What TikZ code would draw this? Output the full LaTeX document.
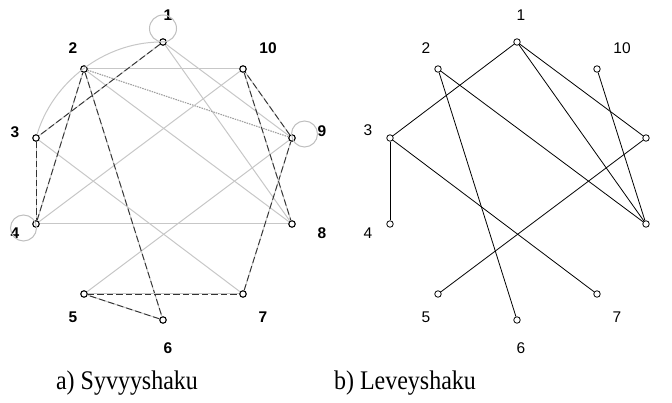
\documentclass[tikz,border=0pt]{standalone}
\usepackage{fontspec}
\setmainfont{Liberation Serif}
\setsansfont{Liberation Sans}
\begin{document}
\begin{tikzpicture}[x=1pt,y=-1pt,
  gr/.style={draw=black!22, line width=1pt},
  grdot/.style={draw=black!38, line width=1.1pt, dash pattern=on 1.5pt off 1pt},
  loopst/.style={draw=black!25, line width=1pt},
  tree/.style={draw=black!80, line width=0.9pt, dash pattern=on 6.5pt off 3pt},
  bfs/.style={draw=black, line width=0.8pt},
  vtx/.style={circle, draw=black, line width=0.8pt, inner sep=0pt, minimum size=6.5pt},
  vtxl/.style={vtx, line width=1.1pt},
  lbl/.style={font=\sffamily\fontsize{15.5}{18}\selectfont, inner sep=0pt},
  lbll/.style={lbl, font=\sffamily\bfseries\fontsize{15.5}{18}\selectfont},
  captext/.style={font=\fontsize{24}{28}\selectfont, inner sep=0pt, anchor=base, yscale=1.12}
]
\useasboundingbox (0,0) rectangle (672,403);
% ---------- left graph (depth-first) ----------
\node[vtxl] (l1) at (163,42) {};
\node[vtxl] (l2) at (84,69) {};
\node[vtxl] (l10) at (243,69) {};
\node[vtxl] (l3) at (36,138) {};
\node[vtxl] (l9) at (292,138) {};
\node[vtxl] (l4) at (36,224) {};
\node[vtxl] (l8) at (292,224) {};
\node[vtxl] (l5) at (84,294) {};
\node[vtxl] (l7) at (243,294) {};
\node[vtxl] (l6) at (163,320) {};
\node[lbll] (t1) at (168,15) {1};
\node[lbll] (t2) at (73,48) {2};
\node[lbll] (t10) at (268,48) {10};
\node[lbll] (t3) at (15,132) {3};
\node[lbll] (t9) at (322,131) {9};
\node[lbll] (t4) at (15,233) {4};
\node[lbll] (t8) at (322,233) {8};
\node[lbll] (t5) at (73,317) {5};
\node[lbll] (t7) at (263,317) {7};
\node[lbll] (t6) at (168,348) {6};
% loops
\draw[loopst] (l1) ++(0,-13.5) circle[radius=13.5pt];
\draw[loopst] (l9) ++(12.5,-4) circle[radius=13pt];
\draw[loopst] (l4) ++(-12.5,4) circle[radius=13pt];
% non-tree edges
\draw[gr] (l1) .. controls (104.3,42.8) and (52.8,81.7) .. (l3);
\draw[gr] (l1) -- (l8);
\draw[gr] (l1) -- (l9);
\draw[gr] (l2) -- (l8);
\draw[grdot] (l2) -- (l9);
\draw[gr] (l2) -- (l10);
\draw[gr] (l3) -- (l7);
\draw[gr] (l4) -- (l8);
\draw[gr] (l4) -- (l10);
\draw[gr] (l5) -- (l9);
% tree edges
\foreach \a/\b in {l1/l3,l3/l4,l4/l2,l2/l6,l6/l5,l5/l7,l7/l9,l9/l10,l10/l8}{
  \draw[gr] (\a) -- (\b);
  \draw[tree] (\a) -- (\b);
}
% ---------- right graph (breadth-first) ----------
\node[vtx] (r1) at (517,42) {};
\node[vtx] (r2) at (438,69) {};
\node[vtx] (r10) at (597,69) {};
\node[vtx] (r3) at (390,138) {};
\node[vtx] (r9) at (646,138) {};
\node[vtx] (r4) at (390,224) {};
\node[vtx] (r8) at (646,224) {};
\node[vtx] (r5) at (438,294) {};
\node[vtx] (r7) at (597,294) {};
\node[vtx] (r6) at (517,320) {};
\node[lbl] (s1) at (521,15) {1};
\node[lbl] (s2) at (426,48) {2};
\node[lbl] (s10) at (622,48) {10};
\node[lbl] (s3) at (368,130) {3};
\node[lbl] (s9) at (676,131) {9};
\node[lbl] (s4) at (368,233) {4};
\node[lbl] (s8) at (676,233) {8};
\node[lbl] (s5) at (426,317) {5};
\node[lbl] (s7) at (617,317) {7};
\node[lbl] (s6) at (521,348) {6};
\foreach \a/\b in {r1/r3,r1/r8,r1/r9,r3/r4,r3/r7,r8/r2,r8/r10,r9/r5,r2/r6}{
  \draw[bfs] (\a) -- (\b);
}
% ---------- captions ----------
\node[captext] (ca) at (127,389) {a) Syvyyshaku};
\node[captext] (cb) at (405,389) {b) Leveyshaku};
\end{tikzpicture}
\end{document}
